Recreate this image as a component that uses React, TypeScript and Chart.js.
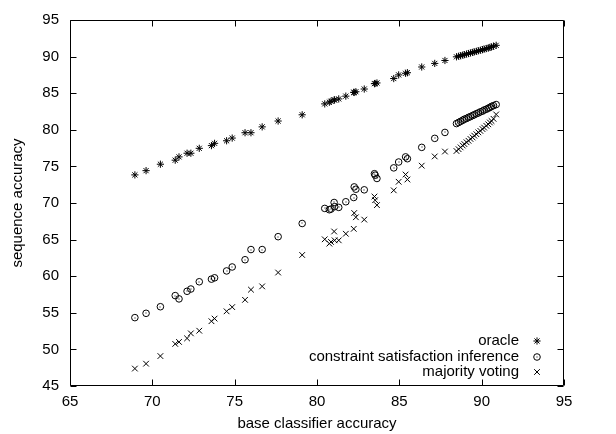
import React, { useEffect, useRef } from 'react';
import { Chart, registerables } from 'chart.js';
import { drawPoint } from 'chart.js/helpers';

Chart.register(...registerables);

const baseAccuracy = [
  68.94, 69.62, 70.49, 71.39, 71.62, 72.11, 72.34, 72.85, 73.59, 73.78, 74.51, 74.85, 75.63, 75.99, 76.67, 77.64, 79.10,
  80.47, 80.75, 80.85, 81.04, 81.07, 81.32, 81.75, 82.23, 82.26, 82.36, 82.87, 83.49, 83.53, 83.64, 84.66, 84.96, 85.38, 85.49,
  86.36, 87.15, 87.77,
  88.47, 88.60, 88.72, 88.85, 88.95, 89.08, 89.20, 89.32, 89.45, 89.55, 89.68, 89.80, 89.92, 90.05, 90.15, 90.28, 90.40, 90.50, 90.60, 90.72, 90.88,
];

const oracle = [
  73.84, 74.42, 75.30, 75.85, 76.30, 76.80, 76.80, 77.47, 77.84, 78.15, 78.50, 78.87, 79.60, 79.60, 80.40, 81.20, 82.05,
  83.54, 83.77, 83.90, 84.08, 84.08, 84.22, 84.60, 85.12, 85.10, 85.20, 85.57, 86.30, 86.33, 86.40, 87.00, 87.50, 87.72, 87.80,
  88.58, 89.07, 89.47,
  89.97, 90.05, 90.12, 90.20, 90.27, 90.35, 90.42, 90.50, 90.57, 90.65, 90.72, 90.80, 90.87, 90.95, 91.02, 91.10, 91.17, 91.25, 91.32, 91.42, 91.54,
];

const constraintSatisfaction = [
  54.34, 54.93, 55.83, 57.35, 56.90, 57.94, 58.25, 59.24, 59.60, 59.78, 60.72, 61.26, 62.25, 63.64, 63.64, 65.40, 67.20,
  69.26, 69.08, 69.17, 70.07, 69.50, 69.40, 70.17, 70.75, 72.20, 71.88, 71.80, 74.00, 73.80, 73.35, 74.80, 75.60, 76.30, 76.05,
  77.60, 78.83, 79.64,
  80.85, 81.00, 81.15, 81.30, 81.45, 81.55, 81.70, 81.80, 81.95, 82.05, 82.20, 82.30, 82.45, 82.55, 82.70, 82.80, 82.95, 83.05, 83.20, 83.30, 83.45,
];

const majorityVoting = [
  47.38, 48.05, 49.09, 50.75, 51.02, 51.51, 52.19, 52.55, 53.85, 54.21, 55.20, 55.78, 56.77, 58.16, 58.61, 60.50, 62.90,
  65.04, 64.45, 64.68, 66.11, 64.90, 64.90, 65.80, 66.47, 68.63, 68.05, 67.73, 70.88, 70.38, 69.71, 71.73, 72.90, 73.89, 73.21,
  75.10, 76.36, 77.03,
  77.10, 77.35, 77.60, 77.85, 78.05, 78.30, 78.50, 78.75, 78.95, 79.20, 79.40, 79.65, 79.85, 80.10, 80.30, 80.55, 80.75, 81.00, 81.20, 81.50, 82.10,
];

const seriesLabels = ['oracle', 'constraint satisfaction inference', 'majority voting'];
const xTicks = [65, 70, 75, 80, 85, 90, 95];
const yTicks = [45, 50, 55, 60, 65, 70, 75, 80, 85, 90, 95];
const xTitle = 'base classifier accuracy';
const yTitle = 'sequence accuracy';

const FONT = "'Liberation Sans', Arial, Helvetica, sans-serif";
const FS = 15;

const framePlugin = {
  id: 'gnuFrame',
  afterDraw(chart: any) {
    const { ctx, chartArea, scales } = chart;
    const L = Math.round(chartArea.left) + 0.5;
    const R = Math.round(chartArea.right) - 0.5;
    const T = Math.round(chartArea.top) + 0.5;
    const B = Math.round(chartArea.bottom) - 0.5;
    const tl = 6;
    ctx.save();
    ctx.strokeStyle = '#000';
    ctx.lineWidth = 1;
    ctx.beginPath();
    ctx.moveTo(L, T);
    ctx.lineTo(R, T);
    ctx.lineTo(R, B);
    ctx.lineTo(L, B);
    ctx.closePath();
    xTicks.forEach((v) => {
      const px = Math.round(scales.x.getPixelForValue(v)) + 0.5;
      ctx.moveTo(px, B);
      ctx.lineTo(px, B - tl);
      ctx.moveTo(px, T);
      ctx.lineTo(px, T + tl);
    });
    yTicks.forEach((v) => {
      const py = Math.round(scales.y.getPixelForValue(v)) + 0.5;
      ctx.moveTo(L, py);
      ctx.lineTo(L + tl, py);
      ctx.moveTo(R, py);
      ctx.lineTo(R - tl, py);
    });
    ctx.stroke();
    ctx.restore();
  },
};

const centerDotPlugin = {
  id: 'centerDot',
  afterDatasetsDraw(chart: any) {
    const { ctx } = chart;
    const meta = chart.getDatasetMeta(1);
    ctx.save();
    ctx.fillStyle = '#000';
    meta.data.forEach((el: any) => {
      ctx.fillRect(Math.round(el.x) - 0.5, Math.round(el.y) - 0.5, 1, 1);
    });
    ctx.restore();
  },
};

const legendPlugin = {
  id: 'gnuLegend',
  afterDraw(chart: any) {
    const { ctx } = chart;
    const textRight = 519;
    const symX = 537;
    const rows = [341, 357, 372];
    ctx.save();
    ctx.font = `${FS}px ${FONT}`;
    ctx.textAlign = 'right';
    ctx.textBaseline = 'middle';
    chart.data.datasets.forEach((ds: any, i: number) => {
      const y = rows[i];
      ctx.fillStyle = '#000';
      ctx.fillText(ds.label, textRight, y);
      ctx.strokeStyle = '#000';
      ctx.fillStyle = 'rgba(0,0,0,0)';
      ctx.lineWidth = 1;
      drawPoint(ctx, { pointStyle: ds.pointStyle, radius: ds.pointRadius, borderWidth: 1, rotation: 0 } as any, symX, y);
      if (i === 1) {
        ctx.fillStyle = '#000';
        ctx.fillRect(symX - 0.5, y - 0.5, 1, 1);
      }
    });
    ctx.restore();
  },
};

export default function App() {
  const ref = useRef<HTMLCanvasElement | null>(null);

  useEffect(() => {
    document.body.style.margin = '0';
    const canvas = ref.current!;
    const toPoints = (ys: number[]) => baseAccuracy.map((x, i) => ({ x, y: ys[i] }));

    const chart = new Chart(canvas, {
      type: 'scatter',
      data: {
        datasets: [
          {
            label: seriesLabels[0],
            data: toPoints(oracle),
            pointStyle: 'star',
            pointRadius: 3.6,
            borderColor: '#000',
            backgroundColor: '#000',
            borderWidth: 1,
          },
          {
            label: seriesLabels[1],
            data: toPoints(constraintSatisfaction),
            pointStyle: 'circle',
            pointRadius: 3.3,
            borderColor: '#000',
            backgroundColor: 'rgba(0,0,0,0)',
            borderWidth: 1,
          },
          {
            label: seriesLabels[2],
            data: toPoints(majorityVoting),
            pointStyle: 'crossRot',
            pointRadius: 4,
            borderColor: '#000',
            backgroundColor: '#000',
            borderWidth: 1,
          },
        ],
      },
      options: {
        responsive: false,
        animation: false,
        events: [],
        layout: { padding: { top: 15, right: 52, left: 0, bottom: 0 } },
        plugins: {
          legend: { display: false },
          tooltip: { enabled: false },
        },
        scales: {
          x: {
            type: 'linear',
            min: 65,
            max: 95,
            afterFit: (s: any) => {
              s.height = 48;
            },
            afterBuildTicks: (s: any) => {
              s.ticks = xTicks.map((v) => ({ value: v }));
            },
            grid: { display: false, drawTicks: false },
            border: { display: false },
            ticks: {
              autoSkip: false,
              maxRotation: 0,
              padding: 7,
              color: '#000',
              font: { family: FONT, size: FS },
            },
            title: {
              display: true,
              text: xTitle,
              color: '#000',
              font: { family: FONT, size: FS },
              padding: { top: 0, bottom: 1 },
            },
          },
          y: {
            type: 'linear',
            min: 45,
            max: 95,
            afterFit: (s: any) => {
              s.width = 70;
            },
            afterBuildTicks: (s: any) => {
              s.ticks = yTicks.map((v) => ({ value: v }));
            },
            grid: { display: false, drawTicks: false },
            border: { display: false },
            ticks: {
              autoSkip: false,
              padding: 11,
              color: '#000',
              font: { family: FONT, size: FS },
            },
            title: {
              display: true,
              text: yTitle,
              color: '#000',
              font: { family: FONT, size: FS },
              padding: { top: 9, bottom: 0 },
            },
          },
        },
      },
      plugins: [centerDotPlugin, framePlugin, legendPlugin],
    });
    return () => chart.destroy();
  }, []);

  return (
    <div style={{ position: 'absolute', left: 0, top: 0, width: 616, height: 434, background: '#fff' }}>
      <canvas ref={ref} width={616} height={434} />
    </div>
  );
}
